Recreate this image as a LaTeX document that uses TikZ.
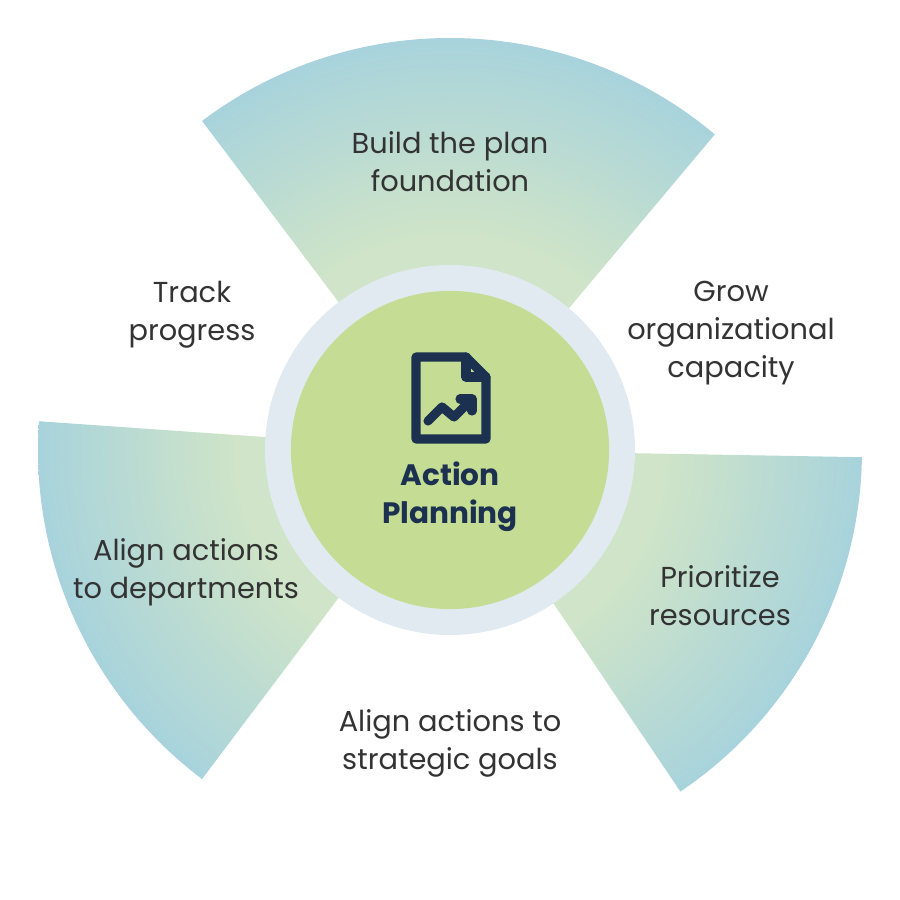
\documentclass[tikz,border=0pt]{standalone}
\usepackage{fontspec}
\setmainfont{Poppins}
\usetikzlibrary{positioning}
\definecolor{wedgegreen}{HTML}{CFE4C8}
\definecolor{wedgeblue}{HTML}{A8D3DC}
\definecolor{ringblue}{HTML}{E1EAF0}
\definecolor{hubgreen}{HTML}{C4DC93}
\definecolor{navy}{HTML}{1C3050}
\definecolor{labelgray}{HTML}{333333}
\pgfdeclareradialshading{wedgeshade}{\pgfpoint{0bp}{0bp}}{color(0bp)=(wedgegreen); color(13bp)=(wedgegreen); color(25bp)=(wedgeblue); color(50bp)=(wedgeblue)}
\tikzset{
  label/.style={align=center,text=labelgray,font=\fontsize{8.2}{10.8}\selectfont},
}
\begin{document}
\begin{tikzpicture}[x=0.01cm,y=0.01cm]
    \useasboundingbox (0,0) rectangle (900,900);
    \coordinate (O) at (450,450);
    % wedges
    \foreach \a/\b in {50/127,-56/-1,176/233} {
        \begin{scope}
            \clip (O) -- ++(\a:412) arc (\a:\b:412) -- cycle;
            \shade[shading=wedgeshade] (O) circle (412);
        \end{scope}
    }
    % hub
    \fill[ringblue] (O) circle (185);
    \node[shape=circle,fill=hubgreen,inner sep=0pt,minimum size=3.18cm] (H) at (O) {};
    % icon
    \begin{scope}[shift={(450,501)},line width=2.6pt,line join=round,line cap=round]
        \draw[navy] (-34,-40) -- (-34,42) -- (16,42) -- (36,22) -- (36,-40) -- cycle;
        \draw[navy] (16,42) -- (16,22) -- (36,22);
        \draw[navy] (-22,-22) -- (-8,-8) -- (4,-18) -- (22,0);
        \draw[navy] (10,0) -- (22,0) -- (22,-12);
    \end{scope}
    \node[align=center,text=navy,font=\bfseries\fontsize{8.4}{10.8}\selectfont] (T) at (450,403) {Action\\Planning};
    % labels
    \node[label] (L1) at (450,738) {Build the plan\\foundation};
    \node[label] (L2) at (731,567) {Grow\\organizational\\capacity};
    \node[label] (L3) at (720,304) {Prioritize\\resources};
    \node[label] (L4) at (450,157) {Align actions to\\strategic goals};
    \node[label] (L5) at (186,328) {Align actions\\to departments};
    \node[label] (L6) at (192,585) {Track\\progress};
\end{tikzpicture}
\end{document}
